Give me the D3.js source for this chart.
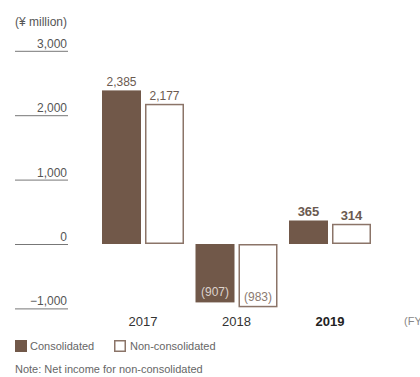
<!DOCTYPE html>
<html>
<head>
<meta charset="utf-8">
<script src="https://cdn.jsdelivr.net/npm/d3@7"></script>
<style>
  html, body { margin: 0; padding: 0; background: #fff; }
  svg { display: block; font-family: "Liberation Sans", Arial, sans-serif; }
</style>
</head>
<body>
<svg id="chart" width="420" height="377"></svg>
<script>
// Net income by fiscal year (¥ million)
const years = ["2017", "2018", "2019"];
const consolidated = [2385, -907, 365];
const nonConsolidated = [2177, -983, 314];
const tickValues = [-1000, 0, 1000, 2000, 3000];
const seriesNames = ["Consolidated", "Non-consolidated"];

const BROWN = "#715849";
const EDGE = "#8b7468";

const svg = d3.select("#chart");

const y = d3.scaleLinear().domain([-1000, 3000]).range([308.4, 50.8]);
const x = d3.scaleBand().domain(years).range([100, 380.5]).padding(0);
const sub = d3.scaleBand().domain(["c", "n"]).range([2, 84]).paddingInner(0.093).paddingOuter(0);
const pairCenter = (sub.range()[0] + sub.range()[1]) / 2;

const fmt = v => v < 0 ? "(" + d3.format(",")(-v) + ")" : d3.format(",")(v);

// unit caption
svg.append("text").attr("x", 15).attr("y", 26)
  .attr("font-size", 12).attr("fill", "#555").text("(¥ million)");

// y axis: short rules with right-aligned labels above them
const yAxis = d3.axisLeft(y).tickValues(tickValues).tickSize(53).tickPadding(0)
  .tickFormat(v => v < 0 ? "\u2212" + d3.format(",")(-v) : d3.format(",")(v));
const gy = svg.append("g").attr("transform", "translate(68,0)").call(yAxis);
gy.select(".domain").remove();
gy.selectAll(".tick line").attr("stroke", "#777").attr("stroke-width", 1);
gy.selectAll(".tick text")
  .attr("x", -1).attr("dy", "-0.3em").attr("text-anchor", "end")
  .attr("font-size", 12).attr("fill", "#555");

const rows = years.map((yr, i) => ({ yr, c: consolidated[i], n: nonConsolidated[i] }));

const groups = svg.append("g").selectAll("g").data(rows).join("g")
  .attr("transform", d => `translate(${x(d.yr)},0)`);

// consolidated bars (filled)
groups.append("rect")
  .attr("x", sub("c")).attr("width", sub.bandwidth())
  .attr("y", d => y(Math.max(0, d.c)))
  .attr("height", d => Math.abs(y(d.c) - y(0)))
  .attr("fill", BROWN);

// non-consolidated bars (outlined)
groups.append("rect")
  .attr("x", d => sub("n") + 0.75).attr("width", sub.bandwidth() - 1.5)
  .attr("y", d => y(Math.max(0, d.n)) + 0.75)
  .attr("height", d => Math.abs(y(d.n) - y(0)) - 1.5)
  .attr("fill", "#fff").attr("stroke", EDGE).attr("stroke-width", 1.5);

// value labels
function valueLabel(key) {
  groups.append("text")
    .attr("x", sub(key) + sub.bandwidth() / 2)
    .attr("y", d => d[key] >= 0 ? y(d[key]) - 4 : y(d[key]) - 6)
    .attr("text-anchor", "middle")
    .attr("font-size", d => d.yr === "2019" ? 13 : 12)
    .attr("font-weight", d => d.yr === "2019" ? "bold" : "normal")
    .attr("fill", d => d[key] < 0 ? (key === "c" ? "#ddd3cc" : "#8b7a70") : "#6b5a50")
    .text(d => fmt(d[key]));
}
valueLabel("c");
valueLabel("n");

// year labels, centred under each pair of bars
groups.append("text")
  .attr("x", pairCenter).attr("y", 326)
  .attr("text-anchor", "middle").attr("font-size", 13)
  .attr("font-weight", d => d.yr === "2019" ? "bold" : "normal")
  .attr("fill", d => d.yr === "2019" ? "#222" : "#333")
  .text(d => d.yr);

svg.append("text").attr("x", 404).attr("y", 325)
  .attr("font-size", 11).attr("fill", "#888").text("(FY");

// legend
const legend = svg.append("g");
legend.append("rect").attr("x", 15).attr("y", 340).attr("width", 12).attr("height", 12).attr("fill", BROWN);
legend.append("text").attr("x", 30).attr("y", 350).attr("font-size", 11).attr("fill", "#666").text(seriesNames[0]);
legend.append("rect").attr("x", 114.75).attr("y", 340.75).attr("width", 10.5).attr("height", 10.5)
  .attr("fill", "#fff").attr("stroke", EDGE).attr("stroke-width", 1.5);
legend.append("text").attr("x", 130).attr("y", 350).attr("font-size", 11).attr("fill", "#666").text(seriesNames[1]);

svg.append("text").attr("x", 15).attr("y", 373).attr("font-size", 11).attr("fill", "#666")
  .text("Note: Net income for non-consolidated");
</script>
</body>
</html>
